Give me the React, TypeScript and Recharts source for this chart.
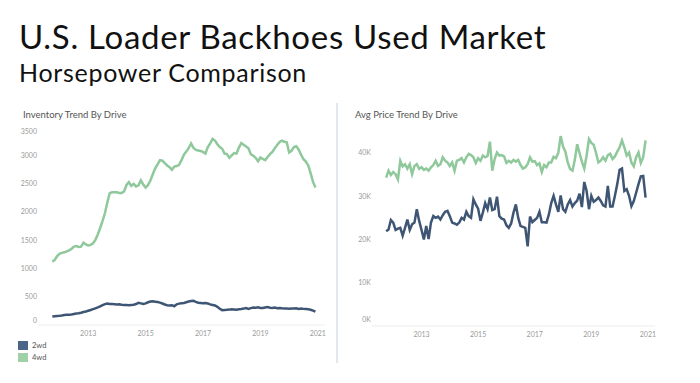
import { LineChart, Line, XAxis, YAxis } from "recharts";

// months start Oct 2011, one point per month
const START_YEAR = 2011.75;
const YEAR_TICKS = [2013, 2015, 2017, 2019, 2021];
const INVENTORY_TICKS = [0, 500, 1000, 1500, 2000, 2500, 3000, 3500];
const PRICE_TICKS = [0, 10000, 20000, 30000, 40000];

const inventory2wd = [
  150, 155, 160, 162, 168, 175, 180, 182, 186, 195, 203, 208, 218, 230, 240, 252, 265, 280, 295, 310,
  330, 350, 370, 380, 372, 370, 368, 362, 365, 358, 352, 355, 350, 355, 358, 370, 392, 382, 370, 382,
  402, 415, 418, 412, 405, 395, 380, 362, 350, 345, 350, 332, 365, 378, 385, 390, 402, 415, 425, 428,
  410, 395, 390, 385, 388, 380, 365, 355, 345, 322, 288, 262, 265, 268, 272, 280, 275, 270, 278, 282,
  290, 300, 285, 298, 308, 305, 312, 302, 300, 310, 318, 305, 300, 310, 298, 302, 295, 292, 290, 288,
  292, 290, 295, 285, 290, 285, 282, 278, 270, 255, 238,
];
const inventory4wd = [
  1120, 1150, 1220, 1260, 1275, 1285, 1300, 1320, 1345, 1385, 1395, 1380, 1385, 1455, 1425, 1405, 1415, 1445, 1505, 1600,
  1715, 1840, 1980, 2170, 2330, 2345, 2345, 2345, 2335, 2335, 2360, 2475, 2525, 2460, 2495, 2450, 2470, 2555, 2485, 2430,
  2475, 2555, 2665, 2770, 2840, 2915, 2905, 2860, 2820, 2790, 2745, 2800, 2810, 2830, 2915, 3010, 3065, 3125, 3210, 3130,
  3095, 3085, 3075, 3060, 3030, 3145, 3210, 3290, 3260, 3195, 3145, 3115, 3030, 3020, 2955, 3000, 3040, 3030, 3135, 3215,
  3185, 3155, 3125, 3020, 2990, 2955, 2895, 2960, 2935, 2915, 2970, 3020, 3060, 3125, 3180, 3235, 3260, 3240, 3230, 3050,
  3080, 3145, 3160, 3100, 3010, 2930, 2890, 2820, 2680, 2530, 2430,
];
const price2wd = [
  21900, 22300, 24500, 23900, 22200, 22500, 22700, 20900, 22700, 24600, 22200, 23500, 23900, 27000, 24300, 22200, 20000, 23100, 20100, 23900,
  25400, 25000, 25300, 24600, 25600, 26400, 26600, 25400, 23900, 23700, 23400, 23900, 25000, 24600, 26400, 25400, 25000, 29300, 28100, 27100,
  24300, 26200, 28400, 27000, 29700, 26800, 27000, 29900, 25400, 24800, 24600, 23300, 22700, 23700, 26200, 28100, 25000, 23100, 22900, 22700,
  18400, 25300, 24000, 24500, 25000, 26400, 24000, 24000, 23900, 25800, 28400, 30100, 28100, 26400, 30200, 27000, 26400, 28100, 29100, 27600,
  28400, 29000, 30600, 27500, 33300, 31200, 27000, 30100, 28700, 29100, 29700, 28900, 27900, 27600, 32400, 27600, 27600, 30100, 32800, 36100,
  36400, 31200, 31600, 30100, 27700, 28900, 30800, 32800, 34600, 34700, 29700,
];
const price4wd = [
  34300, 35900, 34900, 35600, 35100, 33900, 38200, 36900, 37400, 36400, 37400, 35100, 37000, 37400, 36300, 36700, 36100, 36400, 35900, 36700,
  37200, 38200, 37000, 37400, 39000, 38200, 37800, 37000, 37800, 35900, 38200, 38400, 38800, 37800, 39000, 39800, 39500, 39000, 37700, 38800,
  38200, 39400, 39000, 39300, 42600, 35900, 38600, 40100, 39400, 39500, 39200, 37700, 38200, 37800, 38400, 38000, 38400, 37200, 36400, 36700,
  37400, 39000, 38000, 38100, 37200, 37600, 35600, 37200, 36700, 37800, 37800, 39100, 38800, 40000, 43900, 41500, 40300, 37800, 36300, 35900,
  38400, 42000, 40000, 38000, 36400, 39400, 43200, 42300, 41900, 40000, 37800, 38200, 39000, 38200, 39500, 39800, 38600, 39200, 40300, 41300,
  42900, 41300, 39400, 40100, 37800, 36900, 39000, 40100, 37700, 39000, 42900,
];

const months = inventory2wd.map((_, i) => START_YEAR + i / 12);
const inventoryData = months.map((t, i) => ({ t, wd2: inventory2wd[i], wd4: inventory4wd[i] }));
const priceData = months.map((t, i) => ({ t, wd2: price2wd[i], wd4: price4wd[i] }));

const NAVY = "#3e5674";
const GREEN = "#8ec89b";
const TICK_GRAY = "#9a9a9a";
const FONT = "Lato, 'Open Sans', sans-serif";

// edge labels sit inside the plot, like the original tool does
function YTick(props: any) {
  const { x, y, payload, shifts, fmt } = props;
  const dy = shifts[payload.value] ?? 0;
  return (
    <text x={x} y={y + dy} dy="0.35em" textAnchor="end" fontSize={7} fill={TICK_GRAY} fontFamily={FONT}>
      {fmt(payload.value)}
    </text>
  );
}

function XTick(props: any) {
  const { x, y, payload } = props;
  return (
    <text x={x} y={y} dy="0.71em" textAnchor="middle" fontSize={7} fill={TICK_GRAY} fontFamily={FONT}>
      {payload.value}
    </text>
  );
}

const xAxisProps = {
  dataKey: "t",
  type: "number" as const,
  domain: [2011.25, 2021.25],
  ticks: YEAR_TICKS,
  tickLine: false,
  tickSize: 0,
  tickMargin: 6,
  height: 20,
  axisLine: { stroke: "#ededed" },
  tick: <XTick />,
  interval: 0 as const,
};

export default function App() {
  return (
    <div
      style={{
        position: "absolute",
        left: 0,
        top: 0,
        width: 700,
        height: 383,
        background: "#fff",
        overflow: "hidden",
        fontFamily: FONT,
      }}
    >
      <div style={{ position: "absolute", left: 19, top: 16, fontSize: 33, lineHeight: "40px", letterSpacing: 0.7, color: "#111" }}>
        U.S. Loader Backhoes Used Market
      </div>
      <div style={{ position: "absolute", left: 19, top: 57, fontSize: 25, lineHeight: "30px", letterSpacing: 0.7, color: "#111" }}>
        Horsepower Comparison
      </div>

      <div style={{ position: "absolute", left: 23, top: 109, fontSize: 9.5, color: "#555" }}>
        Inventory Trend By Drive
      </div>
      <div style={{ position: "absolute", left: 355, top: 109, fontSize: 9.5, color: "#555" }}>
        Avg Price Trend By Drive
      </div>

      <div
        style={{
          position: "absolute",
          left: 336,
          top: 103,
          width: 2,
          height: 260,
          background: "#e3e8ee",
        }}
      />

      <div style={{ position: "absolute", left: 0, top: 0 }}>
        <LineChart width={340} height={345} data={inventoryData} margin={{ top: 127, right: 15, left: 0, bottom: 0 }}>
          <XAxis {...xAxisProps} />
          <YAxis
            width={38}
            domain={[0, 3500]}
            ticks={INVENTORY_TICKS}
            interval={0}
            axisLine={false}
            tickLine={false}
            tickSize={0}
            tickMargin={1}
            tick={<YTick shifts={{ 0: -4, 3500: 5 }} fmt={(v: number) => String(v)} />}
          />
          <Line dataKey="wd2" name="2wd" stroke={NAVY} strokeWidth={2.5} dot={false} type="linear" isAnimationActive={false} />
          <Line dataKey="wd4" name="4wd" stroke={GREEN} strokeWidth={2.5} dot={false} type="linear" isAnimationActive={false} />
        </LineChart>
      </div>

      <div style={{ position: "absolute", left: 340, top: 0 }}>
        <LineChart width={330} height={346} data={priceData} margin={{ top: 127, right: 15, left: 0, bottom: 0 }}>
          <XAxis {...xAxisProps} />
          <YAxis
            width={32}
            domain={[0, 46000]}
            ticks={PRICE_TICKS}
            interval={0}
            axisLine={false}
            tickLine={false}
            tickSize={0}
            tickMargin={1}
            tick={<YTick shifts={{ 0: -6 }} fmt={(v: number) => `${v / 1000}K`} />}
          />
          <Line dataKey="wd2" name="2wd" stroke={NAVY} strokeWidth={2.5} dot={false} type="linear" isAnimationActive={false} />
          <Line dataKey="wd4" name="4wd" stroke={GREEN} strokeWidth={2.5} dot={false} type="linear" isAnimationActive={false} />
        </LineChart>
      </div>

      {[
        { label: "2wd", color: "#4a6585", top: 341 },
        { label: "4wd", color: "#9fd0a8", top: 353 },
      ].map((item) => (
        <div key={item.label} style={{ position: "absolute", left: 18, top: item.top, display: "flex", alignItems: "center" }}>
          <div style={{ width: 10, height: 9, background: item.color }} />
          <span style={{ marginLeft: 4, fontSize: 7.5, color: "#555" }}>{item.label}</span>
        </div>
      ))}
    </div>
  );
}
